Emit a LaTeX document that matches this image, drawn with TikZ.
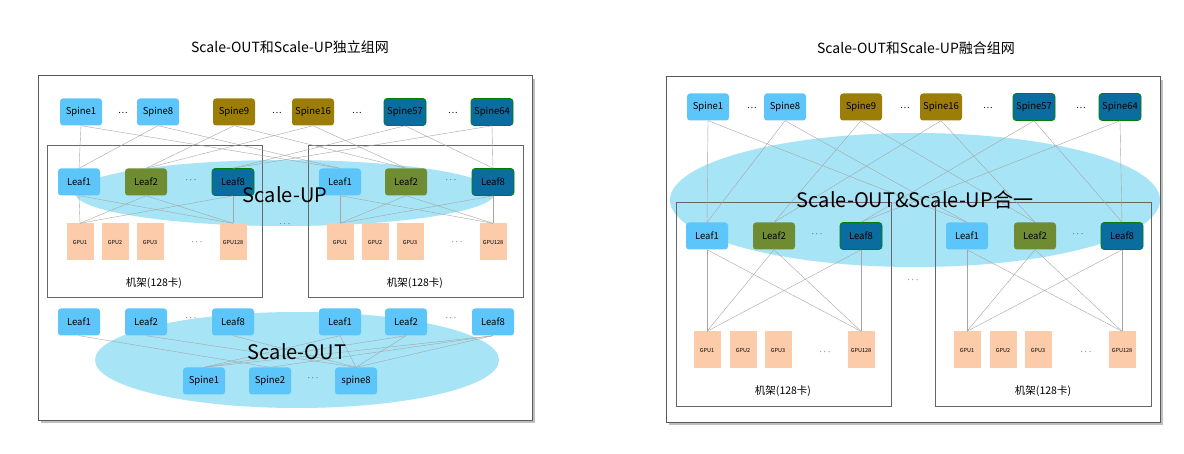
\documentclass[tikz,border=0pt]{standalone}
\usepackage{fontspec}
\setmainfont{Noto Sans CJK SC}
\begin{document}
\begin{tikzpicture}[x=1pt,y=-1pt,
 box/.style={rounded corners=3pt,minimum width=42pt,minimum height=27pt,inner sep=0pt,font=\fontsize{9.5}{10}\selectfont},
 lb/.style={box,fill=lb!100},
 ol/.style={box,fill=olv},
 db/.style={box,fill=dbl,draw=green!50!black,line width=0.6pt},
 lg/.style={box,fill=lgr},
 gpu/.style={fill=gpuc,minimum width=27pt,minimum height=37pt,inner sep=0pt,font=\fontsize{5.5}{6}\selectfont},
 ln/.style={draw=gray!70,line width=0.4pt},
 rack/.style={draw=gray!80!black,line width=0.6pt},
 frame/.style={draw=gray!70!black,line width=1pt,fill=white},
 ell/.style={fill=ellc},
 dots/.style={font=\fontsize{9}{10}\selectfont},
 ttl/.style={font=\fontsize{14}{16}\selectfont}]
\definecolor{lb}{HTML}{5CC6FA}
\definecolor{olv}{HTML}{9C7D07}
\definecolor{dbl}{HTML}{0B6C9F}
\definecolor{lgr}{HTML}{6F8C32}
\definecolor{gpuc}{HTML}{FBCBAA}
\definecolor{ellc}{HTML}{A6E4F6}
\useasboundingbox (0,0) rectangle (1184,454);
% ---------- LEFT ----------
\node[ttl] (t1) at (290,47) {Scale-OUT和Scale-UP独立组网};
\fill[gray!50] (41,79) rectangle (535,423);
\draw[frame] (38,76) rectangle (532,420);
\fill[ell] (285,193) ellipse (210 and 33);
\fill[ell] (297,360) ellipse (202 and 48);
\draw[rack] (47,145) rectangle (262,297);
\draw[rack] (308,145) rectangle (523,297);
\node[lb] (a1) at (81,112) {Spine1};
\node[lb] (a8) at (158,112) {Spine8};
\node[ol] (a9) at (234,112) {Spine9};
\node[ol] (a16) at (313,112) {Spine16};
\node[db] (a57) at (405,112) {Spine57};
\node[db] (a64) at (492,112) {Spine64};
\foreach \x/\n in {123/d1,277/d2,357/d3,453/d4}\node[dots] (\n) at (\x,113) {\dots};
\node[lb] (p1) at (79,182) {Leaf1};
\node[lg] (p2) at (146,182) {Leaf2};
\node[db] (p8) at (233,182) {Leaf8};
\node[lb] (q1) at (340,182) {Leaf1};
\node[lg] (q2) at (406,182) {Leaf2};
\node[db] (q8) at (493,182) {Leaf8};
\node[dots] (d5) at (191,180) {$\cdots$};
\node[dots] (d6) at (451,180) {$\cdots$};
\node[gpu] (g1) at (80,242) {GPU1};
\node[gpu] (g2) at (115,242) {GPU2};
\node[gpu] (g3) at (150,242) {GPU3};
\node[gpu] (g4) at (233,242) {GPU128};
\node[gpu] (h1) at (340,242) {GPU1};
\node[gpu] (h2) at (375,242) {GPU2};
\node[gpu] (h3) at (410,242) {GPU3};
\node[gpu] (h4) at (493,242) {GPU128};
\node[dots] (d7) at (197,242) {$\cdots$};
\node[dots] (d8) at (457,242) {$\cdots$};
\node[font=\fontsize{10.5}{12}\selectfont] (r1) at (154,283) {机架(128卡)};
\node[font=\fontsize{10.5}{12}\selectfont] (r2) at (415,283) {机架(128卡)};
\node[dots] (d9) at (285,224) {$\cdots$};
\foreach \s/\l in {a1/p1,a1/q1,a8/p1,a8/q1,a9/p2,a9/q2,a16/p2,a16/q2,a57/p8,a57/q8,a64/p8,a64/q8}
  \draw[ln] (\s.south) -- (\l.north);
\foreach \l in {p1,p2,p8}{\draw[ln] (\l.south) -- (g1.north); \draw[ln] (\l.south) -- (g4.north);}
\foreach \l in {q1,q2,q8}{\draw[ln] (\l.south) -- (h1.north); \draw[ln] (\l.south) -- (h4.north);}
\node[font=\fontsize{20}{22}\selectfont] (su) at (285,195) {Scale-UP};
% scale-out
\node[lb] (o1) at (79,322) {Leaf1};
\node[lb] (o2) at (146,322) {Leaf2};
\node[lb] (o3) at (233,322) {Leaf8};
\node[lb] (o4) at (340,322) {Leaf1};
\node[lb] (o5) at (406,322) {Leaf2};
\node[lb] (o6) at (493,322) {Leaf8};
\node[dots] (d10) at (191,318) {$\cdots$};
\node[dots] (d11) at (451,318) {$\cdots$};
\node[lb] (s1) at (204,381) {Spine1};
\node[lb] (s2) at (270,381) {Spine2};
\node[lb] (s8) at (356,381) {spine8};
\node[dots] (d12) at (313,378) {$\cdots$};
\foreach \a/\b in {o1/s2,o2/s8,o4/s1,o4/s8,o5/s1,o5/s8,o6/s1,o6/s2,o6/s8,o3/s8}
  \draw[ln] (\a.south) -- (\b.north);
\node[font=\fontsize{20}{22}\selectfont] (so) at (297,352) {Scale-OUT};
% ---------- RIGHT ----------
\node[ttl] (t2) at (916,48) {Scale-OUT和Scale-UP融合组网};
\fill[gray!50] (669,80) rectangle (1163,425);
\draw[frame] (666,77) rectangle (1160,422);
\fill[ell] (915,200) ellipse (245 and 67);
\draw[rack] (676,202) rectangle (891,406);
\draw[rack] (935,202) rectangle (1151,406);
\node[lb] (b1) at (708,107) {Spine1};
\node[lb] (b8) at (785,107) {Spine8};
\node[ol] (b9) at (861,107) {Spine9};
\node[ol] (b16) at (941,107) {Spine16};
\node[db] (b57) at (1034,107) {Spine57};
\node[db] (b64) at (1120,107) {Spine64};
\foreach \x/\n in {752/e1,905/e2,988/e3,1081/e4}\node[dots] (\n) at (\x,108) {\dots};
\node[lb] (u1) at (707,236) {Leaf1};
\node[lg] (u2) at (774,236) {Leaf2};
\node[db] (u8) at (861,236) {Leaf8};
\node[lb] (v1) at (967,236) {Leaf1};
\node[lg] (v2) at (1035,236) {Leaf2};
\node[db] (v8) at (1122,236) {Leaf8};
\node[dots] (e5) at (817,234) {$\cdots$};
\node[dots] (e6) at (1078,234) {$\cdots$};
\node[gpu] (k1) at (707,350) {GPU1};
\node[gpu] (k2) at (743,350) {GPU2};
\node[gpu] (k3) at (778,350) {GPU3};
\node[gpu] (k4) at (861,350) {GPU128};
\node[gpu] (m1) at (967,350) {GPU1};
\node[gpu] (m2) at (1003,350) {GPU2};
\node[gpu] (m3) at (1038,350) {GPU3};
\node[gpu] (m4) at (1122,350) {GPU128};
\node[dots] (e7) at (825,352) {$\cdots$};
\node[dots] (e8) at (1086,352) {$\cdots$};
\node[font=\fontsize{10.5}{12}\selectfont] (r3) at (783,391) {机架(128卡)};
\node[font=\fontsize{10.5}{12}\selectfont] (r4) at (1043,391) {机架(128卡)};
\node[dots] (e9) at (913,280) {$\cdots$};
\foreach \s/\l in {b1/u1,b1/v1,b8/u1,b8/v1,b9/u2,b9/v2,b16/u2,b16/v2,b57/u8,b57/v8,b64/u8,b64/v8}
  \draw[ln] (\s.south) -- (\l.north);
\foreach \l in {u1,u2,u8}{\draw[ln] (\l.south) -- (k1.north); \draw[ln] (\l.south) -- (k4.north);}
\foreach \l in {v1,v2,v8}{\draw[ln] (\l.south) -- (m1.north); \draw[ln] (\l.south) -- (m4.north);}
\node[font=\fontsize{20}{22}\selectfont] (sm) at (915,200) {Scale-OUT\&Scale-UP合一};
\end{tikzpicture}
\end{document}
